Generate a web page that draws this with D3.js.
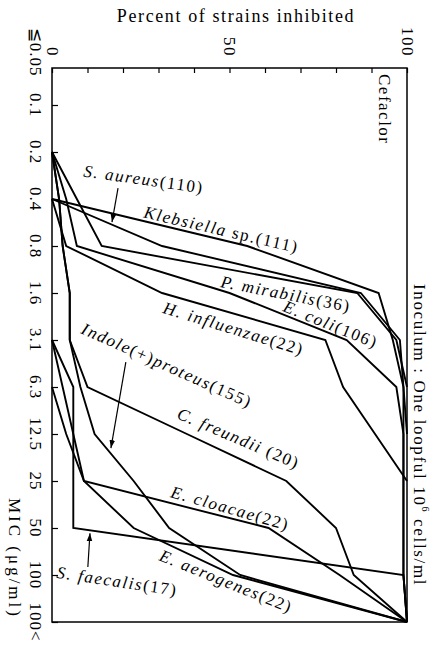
<!DOCTYPE html>
<html>
<head>
<meta charset="utf-8">
<script src="https://cdn.jsdelivr.net/npm/d3@7/dist/d3.min.js"></script>
<style>
body { margin: 0; background: #fff; }
text { font-family: "Liberation Serif", "DejaVu Serif", serif; fill: #000; }
.series { fill: none; stroke: #000; stroke-width: 1.9; stroke-linejoin: miter; }
.frame { fill: none; stroke: #000; stroke-width: 1.5; }
.axis path { display: none; }
.axis line { stroke: #000; stroke-width: 1.2; }
</style>
</head>
<body>
<svg class="chart"></svg>
<script>
var micLabels = ["≦0.05", "0.1", "0.2", "0.4", "0.8", "1.6", "3.1", "6.3", "12.5", "25", "50", "100", "100<"];
var percentLabels = [0, 50, 100];
var percentTicks = [0, 10, 20, 30, 40, 50, 60, 70, 80, 90, 100];

// cumulative % of strains inhibited at each MIC step (null = line not drawn there)
var sAureus       = [null, null, null, 0, 31, 87, 98, 99, 100, null, null, null, null];
var klebsiella    = [null, null, null, 0, 55, 92, 96, 99, 99, 99, 99, 99, 100];
var pMirabilis    = [null, null, 0, 7, 14, 86, 97, 100, null, null, null, null, null];
var eColi         = [null, null, 0, 4, 7, 50, 83, 97, 99, 99, 99, 99, 100];
var hInfluenzae   = [null, null, null, 0, 4, 31, 77, 82, 91, 100, null, null, null];
var indoleProteus = [null, null, 0, 2, 3, 5, 5, 8, 12, 23, 33, 53, 100];
var cFreundii     = [null, null, 0, 2, 3, 5, 5, 10, 38, 66, 80, 85, 100];
var eCloacae      = [null, null, null, null, null, null, 0, 3, 6, 9, 61, 81, 100];
var eAerogenes    = [null, null, null, null, null, null, null, 0, 4, 9, 23, 51, 100];
var sFaecalis     = [null, null, null, null, null, null, 0, 6, 6, 6, 6, 99, 100];

var series = [sAureus, klebsiella, pMirabilis, eColi, hInfluenzae,
              indoleProteus, cFreundii, eCloacae, eAerogenes, sFaecalis];

// label text parts: [text, italic?]; p = percent, m = MIC step, a = angle
var labels = [
    {parts: [["S. aureus", 1], ["(110)", 0]], p: 8.7, m: 2.52, a: 8},
    {parts: [["Klebsiella", 1], [" sp.(111)", 0]], p: 25.6, m: 3.39, a: 13},
    {parts: [["P. mirabilis", 1], ["(36)", 0]], p: 47.3, m: 4.87, a: 11},
    {parts: [["E. coli", 1], ["(106)", 0]], p: 64.8, m: 5.38, a: 22},
    {parts: [["H. influenzae", 1], ["(22)", 0]], p: 31, m: 5.42, a: 17},
    {parts: [["Indole", 1], ["(+)", 0], ["proteus", 1], ["(155)", 0]], p: 7.9, m: 5.85, a: 24},
    {parts: [["C. freundii", 1], [" (20)", 0]], p: 34.9, m: 7.66, a: 23},
    {parts: [["E. cloacae", 1], ["(22)", 0]], p: 33.2, m: 9.34, a: 16},
    {parts: [["E. aerogenes", 1], ["(22)", 0]], p: 29.9, m: 10.68, a: 22},
    {parts: [["S. faecalis", 1], ["(17)", 0]], p: 1.1, m: 11.06, a: 8.5}
];
var arrows = [
    {from: [18.6, 2.77], to: [16.9, 3.49]},
    {from: [20.8, 6.47], to: [16.6, 8.30]},
    {from: [10.1, 10.83], to: [10.7, 10.11]}
];

var width = 430, height = 645;
var svg = d3.select(".chart").attr("width", width).attr("height", height);

var x = d3.scaleLinear().domain([0, 100]).range([52, 407]);
var y = d3.scaleLinear().domain([0, 12]).range([58, 622]);
var frameTop = y(0) + 10;

svg.append("rect")
    .attr("class", "frame")
    .attr("x", x(0)).attr("y", frameTop)
    .attr("width", x(100) - x(0)).attr("height", y(12) - frameTop);

svg.append("g")
    .attr("class", "axis")
    .attr("transform", "translate(0," + frameTop + ")")
    .call(d3.axisTop(x).tickValues(percentTicks).tickSize(-5).tickFormat(""));

svg.append("g")
    .attr("class", "axis")
    .attr("transform", "translate(" + x(0) + ",0)")
    .call(d3.axisLeft(y).tickValues(d3.range(1, micLabels.length)).tickSize(-6).tickFormat(""));

svg.append("text")
    .attr("x", 236).attr("y", 22)
    .attr("text-anchor", "middle")
    .style("font-size", "18px").style("letter-spacing", "1.6px")
    .text("Percent of strains inhibited");

svg.selectAll(".pct-label")
    .data(percentLabels)
    .enter().append("text")
    .attr("class", "pct-label")
    .attr("transform", function(d) { return "translate(" + x(d) + ",57) rotate(90)"; })
    .attr("text-anchor", "end")
    .attr("dominant-baseline", "central")
    .style("font-size", "17px").style("letter-spacing", "1.5px")
    .text(function(d) { return d; });

svg.selectAll(".mic-label")
    .data(micLabels)
    .enter().append("text")
    .attr("class", "mic-label")
    .attr("transform", function(d, i) {
        return "translate(35," + (y(i) - (i === 0 ? 6 : 0)) + ") rotate(90)";
    })
    .attr("text-anchor", "middle")
    .attr("dominant-baseline", "central")
    .style("font-size", "17px").style("letter-spacing", "1px")
    .text(function(d) { return d; });

svg.append("text")
    .attr("transform", "translate(14,498) rotate(90)")
    .attr("dominant-baseline", "central")
    .style("font-size", "17px").style("letter-spacing", "3px")
    .text("MIC  (μg/ml)");

svg.append("text")
    .attr("transform", "translate(384,74) rotate(90)")
    .attr("dominant-baseline", "central")
    .style("font-size", "17px").style("letter-spacing", "1.5px")
    .text("Cefaclor");

var inoc = svg.append("text")
    .attr("transform", "translate(420,284) rotate(90)")
    .attr("dominant-baseline", "central")
    .style("font-size", "17px").style("letter-spacing", "1.65px");
inoc.append("tspan").text("Inoculum : One loopful 10");
inoc.append("tspan").attr("dy", -6).style("font-size", "10px").text("6");
inoc.append("tspan").attr("dy", 6).text(" cells/ml");

var line = d3.line()
    .defined(function(d) { return d != null; })
    .x(function(d) { return x(d); })
    .y(function(d, i) { return y(i); });

svg.selectAll(".series")
    .data(series)
    .enter().append("path")
    .attr("class", "series")
    .attr("d", line);

var lab = svg.selectAll(".sp-label")
    .data(labels)
    .enter().append("text")
    .attr("class", "sp-label")
    .attr("transform", function(d) {
        return "translate(" + x(d.p) + "," + y(d.m) + ") rotate(" + d.a + ")";
    })
    .style("font-size", "17px").style("letter-spacing", "1.6px");
lab.selectAll("tspan")
    .data(function(d) { return d.parts; })
    .enter().append("tspan")
    .style("font-style", function(d) { return d[1] ? "italic" : "normal"; })
    .text(function(d) { return d[0]; });

svg.append("defs").append("marker")
    .attr("id", "head")
    .attr("viewBox", "0 0 10 10")
    .attr("refX", 10).attr("refY", 5)
    .attr("markerWidth", 8).attr("markerHeight", 8)
    .attr("markerUnits", "userSpaceOnUse")
    .attr("orient", "auto")
    .append("path").attr("d", "M0,1.5L10,5L0,8.5Z").attr("fill", "#000");

svg.selectAll(".arrow")
    .data(arrows)
    .enter().append("line")
    .attr("class", "arrow")
    .attr("x1", function(d) { return x(d.from[0]); })
    .attr("y1", function(d) { return y(d.from[1]); })
    .attr("x2", function(d) { return x(d.to[0]); })
    .attr("y2", function(d) { return y(d.to[1]); })
    .attr("stroke", "#000").attr("stroke-width", 1.2)
    .attr("marker-end", "url(#head)");
</script>
</body>
</html>
